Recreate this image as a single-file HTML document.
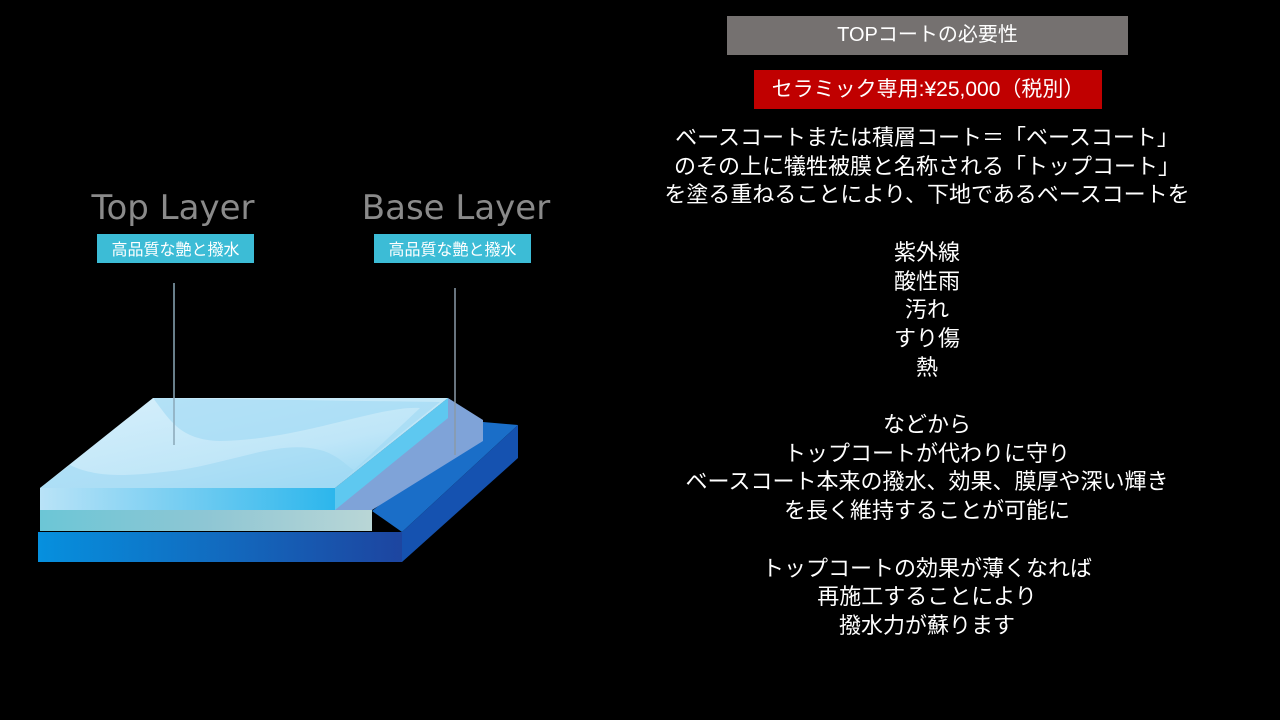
<!DOCTYPE html>
<html><head><meta charset="utf-8"><style>
body{margin:0;width:1280px;height:720px;background:#000;overflow:hidden;position:relative;font-family:"Liberation Sans","Noto Sans CJK JP",sans-serif;}
.t{position:absolute;color:#fff;text-align:center;}
#h1{left:727px;top:16px;width:401px;height:39px;background:#757170;font-size:20px;line-height:39px;}
#h2{left:754px;top:70px;width:348px;height:39px;background:#c00000;font-size:21px;line-height:39px;}
#body{left:627px;width:600px;top:124px;font-size:22px;line-height:28.7px;white-space:pre;}
</style></head><body>
<svg width="600" height="720" style="position:absolute;left:0;top:0">
<defs>
<linearGradient id="top" x1="0" y1="0" x2="1" y2="1"><stop offset="0" stop-color="#d8f0fb"/><stop offset="0.6" stop-color="#bfe6f8"/><stop offset="1" stop-color="#8fd4f2"/></linearGradient>
<linearGradient id="topf" x1="0" y1="0" x2="1" y2="0"><stop offset="0" stop-color="#b9e3f7"/><stop offset="1" stop-color="#2cb6ec"/></linearGradient>
<linearGradient id="bot" x1="0" y1="0" x2="1" y2="0"><stop offset="0" stop-color="#0690de"/><stop offset="1" stop-color="#1d45a0"/></linearGradient>
<linearGradient id="mid" x1="0" y1="0" x2="1" y2="0"><stop offset="0" stop-color="#6cc6d6"/><stop offset="0.5" stop-color="#8ec6d4"/><stop offset="1" stop-color="#b9d6d6"/></linearGradient>
</defs>
<text x="173" y="219" font-size="34" fill="#8a8a8a" text-anchor="middle" font-family="DejaVu Sans">Top Layer</text>
<text x="456" y="219" font-size="34" fill="#8a8a8a" text-anchor="middle" font-family="DejaVu Sans">Base Layer</text>
<rect x="97" y="234" width="157" height="29" fill="#3cbcd6"/>
<rect x="374" y="234" width="157" height="29" fill="#3cbcd6"/>
<text x="175.5" y="255" font-size="16" fill="#fff" text-anchor="middle" font-family="Noto Sans CJK JP">高品質な艶と撥水</text>
<text x="452.5" y="255" font-size="16" fill="#fff" text-anchor="middle" font-family="Noto Sans CJK JP">高品質な艶と撥水</text>
<polygon points="372,511 483,422 518,425 402,532" fill="#1a6ec8"/>
<polygon points="402,532 518,425 518,458 402,562" fill="#1552b0"/>
<rect x="38" y="532" width="364" height="30" fill="url(#bot)"/>
<polygon points="335,488 448,398 483,420 483,441 372,510 335,510" fill="#7fa3d8"/>
<rect x="40" y="510" width="332" height="21" fill="url(#mid)"/>
<polygon points="40,488 153,398 448,398 335,488" fill="url(#top)"/>
<path d="M153,398 C170,420 180,440 220,441 C300,440 380,405 420,408 L335,488 L40,488 L70,465 C100,480 140,475 180,470 C240,460 280,440 320,450 C340,455 350,470 355,470 L440,402 Z" fill="#9fd8f4" opacity="0.6"/>
<polygon points="335,488 448,398 448,418 335,510" fill="#5ec8f0"/>
<rect x="40" y="488" width="295" height="22" fill="url(#topf)"/>
<line x1="174" y1="283" x2="174" y2="445" stroke="#8aa8b8" stroke-width="1.5"/>
<line x1="455" y1="288" x2="455" y2="455" stroke="#8a9aa8" stroke-width="1.5"/>
</svg>
<div class="t" id="h1">TOPコートの必要性</div>
<div class="t" id="h2">セラミック専用:¥25,000（税別）</div>
<div class="t" id="body">ベースコートまたは積層コート＝「ベースコート」
のその上に犠牲被膜と名称される「トップコート」
を塗る重ねることにより、下地であるベースコートを

紫外線
酸性雨
汚れ
すり傷
熱

などから
トップコートが代わりに守り
ベースコート本来の撥水、効果、膜厚や深い輝き
を長く維持することが可能に

トップコートの効果が薄くなれば
再施工することにより
撥水力が蘇ります</div>
</body></html>
